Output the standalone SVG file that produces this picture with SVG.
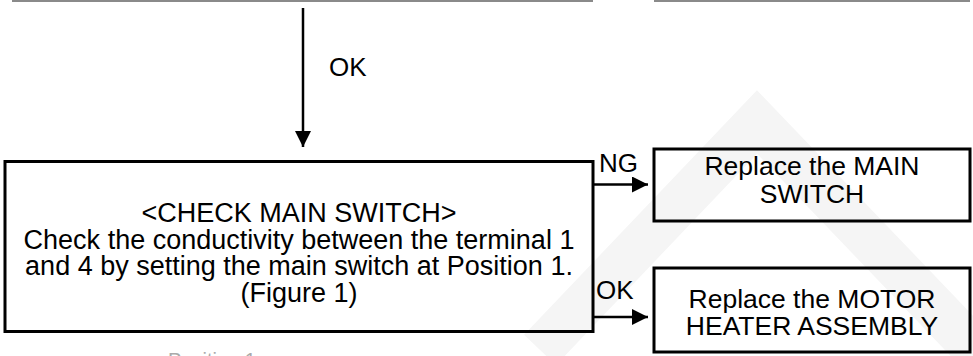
<svg xmlns="http://www.w3.org/2000/svg" width="973" height="356" viewBox="0 0 973 356">
<style>
.box{fill:none;stroke:#000;stroke-width:3}
.t{font-family:"Liberation Sans",Arial,sans-serif;fill:#000;text-anchor:middle}
.lbl{font-family:"Liberation Sans",Arial,sans-serif;fill:#000;font-size:26px}
.conn{stroke:#000;stroke-width:2.5;fill:none}
</style>
<defs>
<marker id="ah" viewBox="0 0 16 16" refX="16" refY="8" markerWidth="16" markerHeight="16" markerUnits="userSpaceOnUse" orient="auto">
<path d="M0,0 L16,8 L0,16 Z" fill="#000"/>
</marker>
</defs>
<rect width="973" height="356" fill="#fff"/>
<g id="watermark" fill="none" stroke="#f5f5f5" stroke-width="44">
<polyline points="540,350 757,122 985,360"/>
</g>
<g id="prev-boxes" stroke="#8a8a8a" stroke-width="2">
<line x1="12" y1="1" x2="593" y2="1"/>
<line x1="654" y1="1" x2="970" y2="1"/>
</g>
<g id="connectors">
<line class="conn" x1="303" y1="8" x2="303" y2="147" marker-end="url(#ah)"/>
<line class="conn" x1="593" y1="184.5" x2="648" y2="184.5" marker-end="url(#ah)"/>
<line class="conn" x1="593" y1="317" x2="648" y2="317" marker-end="url(#ah)"/>
<text class="lbl" x="329" y="76">OK</text>
<text class="lbl" x="599" y="172">NG</text>
<text class="lbl" x="596" y="299">OK</text>
</g>
<g id="check-main-switch">
<rect class="box" x="5" y="161.5" width="588" height="170"/>
<text class="t" font-size="27" x="299" y="222">&lt;CHECK MAIN SWITCH&gt;</text>
<text class="t" font-size="27" x="299" y="248.5">Check the conductivity between the terminal 1</text>
<text class="t" font-size="27" x="299" y="275">and 4 by setting the main switch at Position 1.</text>
<text class="t" font-size="27" x="299" y="301.5">(Figure 1)</text>
</g>
<g id="replace-main-switch">
<rect class="box" x="654" y="149" width="316" height="72"/>
<text class="t" font-size="26.5" x="812" y="175">Replace the MAIN</text>
<text class="t" font-size="26.5" x="812" y="203">SWITCH</text>
</g>
<g id="replace-motor-heater">
<rect class="box" x="654" y="268" width="316" height="84"/>
<text class="t" font-size="26.5" x="812" y="308">Replace the MOTOR</text>
<text class="t" font-size="26.5" x="812" y="335">HEATER ASSEMBLY</text>
</g>
<text font-family="Liberation Sans, Arial, sans-serif" font-size="20" fill="#aaa" x="168" y="367">Position 1</text>
</svg>
